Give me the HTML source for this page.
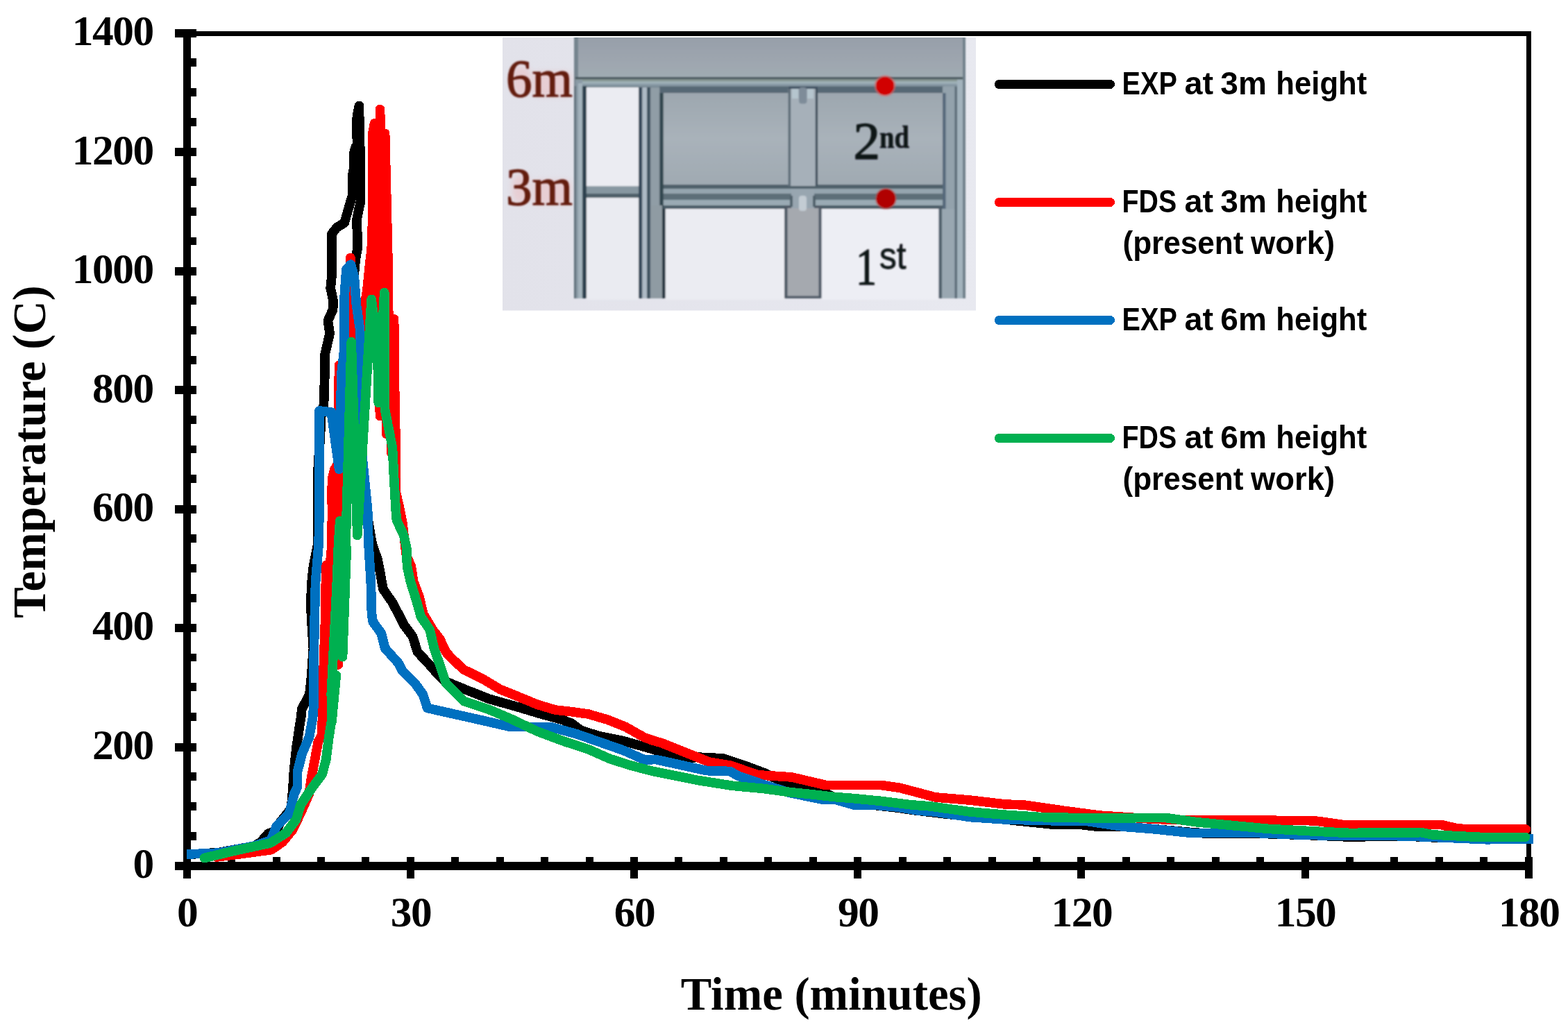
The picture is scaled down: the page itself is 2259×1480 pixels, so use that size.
<!DOCTYPE html>
<html lang="en"><head><meta charset="utf-8"><title>Temperature vs Time</title>
<style>html,body{margin:0;padding:0;background:#fff}svg{display:block}.tk{font-family:"Liberation Serif","DejaVu Serif",serif;font-weight:bold;font-size:61.4px;letter-spacing:-1.5px;fill:#000}.ti{font-family:"Liberation Serif","DejaVu Serif",serif;font-weight:bold;font-size:66.67px;fill:#000}.lg{font-family:"Liberation Sans","DejaVu Sans",sans-serif;font-weight:bold;font-size:46.2px;fill:#000}.cv{fill:none;stroke-width:13;stroke-linejoin:round;stroke-linecap:round}</style></head><body>
<svg width="2259" height="1480" viewBox="0 0 2259 1480">
<rect width="2259" height="1480" fill="#fff"/>
<defs>
<filter id="fb" x="-5%" y="-5%" width="110%" height="110%"><feGaussianBlur stdDeviation="1.05"/></filter>
<filter id="ft" x="-10%" y="-10%" width="120%" height="120%"><feGaussianBlur stdDeviation="1.0"/></filter>
<filter id="fg" x="-20%" y="-20%" width="140%" height="140%"><feGaussianBlur stdDeviation="4"/></filter>
<clipPath id="ic"><rect x="724" y="54" width="682" height="393.5"/></clipPath>
<linearGradient id="gw" x1="0" y1="0" x2="0" y2="1"><stop offset="0" stop-color="#959da8"/><stop offset="0.75" stop-color="#9fa7b0"/><stop offset="1" stop-color="#9facb2"/></linearGradient>
<linearGradient id="gp" x1="0" y1="0" x2="0" y2="1"><stop offset="0" stop-color="#9da7af"/><stop offset="0.5" stop-color="#a9b2ba"/><stop offset="1" stop-color="#a0aab2"/></linearGradient>
<linearGradient id="gbg" x1="0" y1="0" x2="1" y2="0"><stop offset="0" stop-color="#e2e2ea"/><stop offset="1" stop-color="#e8e9f0"/></linearGradient>
</defs>
<g id="inset" clip-path="url(#ic)">
<rect x="714" y="44" width="702" height="414" fill="url(#gbg)"/>
<g filter="url(#fb)">
<rect x="827" y="44" width="564" height="386" fill="#98a3ac"/>
<rect x="827" y="44" width="564" height="67" fill="url(#gw)"/>
<rect x="827" y="44" width="6" height="386" fill="#74848e"/>
<rect x="829" y="111" width="562" height="3.3" fill="#44545b"/>
<rect x="829" y="114.3" width="562" height="2.7" fill="#85948f"/>
<rect x="829" y="117" width="562" height="4.2" fill="#9cafb6"/>
<rect x="829" y="121.2" width="562" height="3.3" fill="#8496a2"/>
<rect x="845" y="124.5" width="546" height="2.5" fill="#6f808a"/>
<rect x="950" y="124.5" width="410" height="9.5" fill="#566874"/>
<rect x="955" y="134" width="180" height="132" fill="url(#gp)"/>
<rect x="1178" y="134" width="180" height="132" fill="url(#gp)"/>
<rect x="845" y="126" width="75" height="142.5" fill="#ebecf2"/>
<rect x="845" y="268.5" width="75" height="10.5" fill="#8797a1"/>
<rect x="845" y="279" width="75" height="6" fill="#4f606a"/>
<rect x="952" y="266" width="408" height="6" fill="#50616b"/>
<rect x="952" y="272" width="408" height="7" fill="#95a5af"/>
<rect x="952" y="279" width="408" height="9" fill="#5d6e78"/>
<rect x="952" y="288" width="408" height="8" fill="#9aaab4"/>
<rect x="955" y="296" width="405" height="5" fill="#4c5d67"/>
<rect x="845" y="285" width="75" height="147" fill="#eaebf1"/>
<rect x="958.5" y="301" width="171.5" height="131" fill="#ebecf2"/>
<rect x="1183.5" y="301" width="169.0" height="131" fill="#edeef4"/>
<rect x="829" y="115" width="10" height="315" fill="#8a9aa5"/>
<rect x="833" y="120" width="6" height="310" fill="#a3b2bc"/>
<rect x="839" y="124" width="6" height="306" fill="#2e4350"/>
<rect x="827" y="124" width="3" height="306" fill="#5f707a"/>
<rect x="920" y="126" width="5.4" height="304" fill="#34495a"/>
<rect x="925.4" y="126" width="6.6" height="304" fill="#adbac5"/>
<rect x="932" y="126" width="5.3" height="304" fill="#3f5260"/>
<rect x="937.3" y="126" width="13.0" height="304" fill="#909da6"/>
<rect x="950.3" y="134" width="5.4" height="167" fill="#33464f"/>
<rect x="937.3" y="296" width="16.7" height="134" fill="#8f9ba3"/>
<rect x="954" y="301" width="4.5" height="129" fill="#26363f"/>
<rect x="1135.7" y="124.5" width="42.4" height="143.5" fill="#a6b0b9"/>
<rect x="1135.7" y="124.5" width="42.4" height="3.5" fill="#3e5060"/>
<rect x="1135.7" y="128" width="3.4" height="140" fill="#5b6a76"/>
<rect x="1174.8" y="128" width="3.3" height="140" fill="#3e4e5a"/>
<rect x="1141" y="128" width="9" height="14" fill="#b5c5ce"/>
<rect x="1163" y="128" width="9" height="14" fill="#b5c5ce"/>
<rect x="1151" y="126" width="11.5" height="23.5" fill="#7e8c99" rx="4"/>
<rect x="1130" y="296" width="53.5" height="134" fill="#4f5a66"/>
<rect x="1134.5" y="300" width="45.0" height="126.5" fill="#a5a9af"/>
<rect x="1140" y="272" width="33" height="28" fill="#98a6b0"/>
<rect x="1151" y="282" width="11" height="22" fill="#c3ccd3" rx="4"/>
<rect x="1138" y="282" width="4" height="16" fill="#4f606a"/>
<rect x="1171" y="282" width="4" height="16" fill="#4f606a"/>
<rect x="1358" y="124.5" width="33" height="305.5" fill="#93a2ac"/>
<rect x="1358" y="134" width="4.5" height="167" fill="#55677a"/>
<rect x="1352.5" y="296" width="4.5" height="134" fill="#4f5f6c"/>
<rect x="1357" y="301" width="19" height="129" fill="#99a7b1"/>
<rect x="1375.5" y="124.5" width="3.5" height="305.5" fill="#5b6d78"/>
<rect x="1379" y="115" width="8" height="315" fill="#a3b3bd"/>
<rect x="1387" y="54" width="4" height="376" fill="#6f808a"/>
</g>
<g filter="url(#fb)">
<circle cx="1275" cy="123.7" r="15.5" fill="#e06060" opacity="0.55"/>
<circle cx="1275" cy="123.7" r="13" fill="#d10505"/>
<circle cx="1276.3" cy="286.2" r="15.5" fill="#c05050" opacity="0.55"/>
<circle cx="1276.3" cy="286.2" r="13.6" fill="#b00404"/>
</g>
<g filter="url(#fg)" fill="#f2a6a6" opacity="0.33">
<rect x="738" y="96" width="26" height="40" rx="10"/><rect x="768" y="104" width="54" height="34" rx="6"/>
<rect x="738" y="252" width="24" height="40" rx="10"/><rect x="768" y="260" width="54" height="34" rx="6"/>
</g>
<g filter="url(#ft)" font-family="'Liberation Serif','DejaVu Serif',serif" stroke-linejoin="round">
<text x="729" y="139.3" font-size="77" fill="#641b11" stroke="#641b11" stroke-width="1.3" textLength="96" lengthAdjust="spacingAndGlyphs">6m</text>
<text x="729" y="295.3" font-size="77" fill="#641b11" stroke="#641b11" stroke-width="1.3" textLength="96" lengthAdjust="spacingAndGlyphs">3m</text>
<text y="228.8" font-size="77" fill="#101418" stroke="#101418" stroke-width="1.4"><tspan x="1229.5">2</tspan><tspan x="1267" y="213" font-size="47" font-weight="bold" stroke-width="0.6" textLength="43" lengthAdjust="spacingAndGlyphs">nd</tspan></text>
<text y="409.7" font-size="77" fill="#101418" stroke="#101418" stroke-width="1.4"><tspan x="1233" textLength="30" lengthAdjust="spacingAndGlyphs">1</tspan><tspan x="1267" y="387.4" font-family="'Liberation Sans','DejaVu Sans',sans-serif" font-size="54" stroke-width="0.8" textLength="38.5" lengthAdjust="spacingAndGlyphs">st</tspan></text>
</g>
</g>
<g fill="#000" shape-rendering="crispEdges">
<rect x="264" y="45" width="1942" height="7"/>
<rect x="2199" y="45" width="7" height="1203"/>
<rect x="264" y="42" width="11" height="1224"/>
<rect x="252" y="1242" width="1956" height="12"/>
<rect x="252" y="1071" width="31" height="12"/>
<rect x="252" y="899" width="31" height="12"/>
<rect x="252" y="728" width="31" height="12"/>
<rect x="252" y="556" width="31" height="12"/>
<rect x="252" y="385" width="31" height="12"/>
<rect x="252" y="213" width="31" height="12"/>
<rect x="252" y="42" width="31" height="12"/>
<rect x="275" y="1199" width="8" height="12"/>
<rect x="275" y="1156" width="8" height="12"/>
<rect x="275" y="1113" width="8" height="12"/>
<rect x="275" y="1027" width="8" height="12"/>
<rect x="275" y="984" width="8" height="12"/>
<rect x="275" y="942" width="8" height="11"/>
<rect x="275" y="856" width="8" height="12"/>
<rect x="275" y="813" width="8" height="12"/>
<rect x="275" y="770" width="8" height="12"/>
<rect x="275" y="684" width="8" height="12"/>
<rect x="275" y="642" width="8" height="11"/>
<rect x="275" y="599" width="8" height="12"/>
<rect x="275" y="513" width="8" height="12"/>
<rect x="275" y="470" width="8" height="12"/>
<rect x="275" y="427" width="8" height="12"/>
<rect x="275" y="342" width="8" height="11"/>
<rect x="275" y="299" width="8" height="12"/>
<rect x="275" y="256" width="8" height="12"/>
<rect x="275" y="170" width="8" height="12"/>
<rect x="275" y="127" width="8" height="12"/>
<rect x="275" y="84" width="8" height="12"/>
<rect x="264" y="1235" width="11" height="31"/>
<rect x="586" y="1235" width="11" height="31"/>
<rect x="908" y="1235" width="11" height="31"/>
<rect x="1230" y="1235" width="11" height="31"/>
<rect x="1552" y="1235" width="11" height="31"/>
<rect x="1875" y="1235" width="11" height="31"/>
<rect x="2197" y="1235" width="11" height="31"/>
<rect x="328" y="1235" width="11" height="8"/>
<rect x="393" y="1235" width="11" height="8"/>
<rect x="457" y="1235" width="11" height="8"/>
<rect x="521" y="1235" width="11" height="8"/>
<rect x="650" y="1235" width="11" height="8"/>
<rect x="715" y="1235" width="11" height="8"/>
<rect x="779" y="1235" width="11" height="8"/>
<rect x="844" y="1235" width="11" height="8"/>
<rect x="972" y="1235" width="11" height="8"/>
<rect x="1037" y="1235" width="11" height="8"/>
<rect x="1101" y="1235" width="11" height="8"/>
<rect x="1166" y="1235" width="11" height="8"/>
<rect x="1295" y="1235" width="11" height="8"/>
<rect x="1359" y="1235" width="11" height="8"/>
<rect x="1424" y="1235" width="11" height="8"/>
<rect x="1488" y="1235" width="11" height="8"/>
<rect x="1617" y="1235" width="11" height="8"/>
<rect x="1681" y="1235" width="11" height="8"/>
<rect x="1746" y="1235" width="11" height="8"/>
<rect x="1810" y="1235" width="11" height="8"/>
<rect x="1939" y="1235" width="11" height="8"/>
<rect x="2003" y="1235" width="11" height="8"/>
<rect x="2068" y="1235" width="11" height="8"/>
<rect x="2132" y="1235" width="11" height="8"/>
</g>
<g class="tk" text-anchor="end">
<text x="220.6" y="1265.2">0</text>
<text x="220.6" y="1093.8">200</text>
<text x="220.6" y="922.3">400</text>
<text x="220.6" y="750.9">600</text>
<text x="220.6" y="579.5">800</text>
<text x="220.6" y="408.1">1000</text>
<text x="220.6" y="236.6">1200</text>
<text x="220.6" y="65.2">1400</text>
</g>
<g class="tk" text-anchor="middle">
<text x="269.7" y="1334.5">0</text>
<text x="591.9" y="1334.5">30</text>
<text x="914.0" y="1334.5">60</text>
<text x="1236.2" y="1334.5">90</text>
<text x="1558.4" y="1334.5">120</text>
<text x="1880.5" y="1334.5">150</text>
<text x="2202.7" y="1334.5">180</text>
</g>
<text class="ti" x="1197.8" y="1454.8" text-anchor="middle">Time (minutes)</text>
<text class="ti" transform="translate(65,651) rotate(-90)" text-anchor="middle">Temperature (C)</text>
<g class="cv" shape-rendering="crispEdges" style="stroke-width:13.7">
<polyline id="c-black" stroke="#000000" points="275.0,1231.1 314.9,1228.6 366.0,1219.2 375.6,1213.7 386.4,1201.2 392.5,1199.0 399.0,1196.5 404.0,1184.5 419.5,1165.0 422.0,1135.4 423.5,1111.1 426.8,1078.6 431.6,1046.2 434.2,1030.0 434.5,1022.4 445.9,1000.8 448.6,975.1 451.4,934.6 449.3,900.8 447.6,870.5 449.2,838.1 451.4,816.5 455.7,794.9 457.8,784.0 457.8,740.0 458.4,668.6 461.1,634.0 462.7,600.5 466.5,583.0 467.9,538.1 468.3,510.0 475.1,480.8 472.4,462.4 479.5,446.2 480.3,435.0 476.2,415.1 477.8,398.9 477.8,337.3 485.4,327.6 496.2,321.1 502.7,298.4 507.6,282.0 507.6,253.0 509.7,243.0 509.7,221.0 512.4,212.0 514.6,208.0 514.6,199.0 513.5,196.0 513.5,178.0 514.6,167.0 517.3,152.5 518.4,200.0 519.5,245.0 519.5,290.0 514.1,315.7 514.1,324.3 515.1,342.7 515.1,357.8 512.5,371.9 510.8,388.1 510.3,398.9 511.0,430.0 516.0,473.0 518.0,538.0 520.0,600.0 522.0,661.0 525.0,700.0 529.7,746.2 536.2,784.0 543.8,805.7 548.1,827.3 551.9,848.9 565.4,868.4 576.8,890.0 582.0,900.5 594.6,917.4 601.4,939.4 615.7,954.6 627.6,968.1 641.1,981.6 669.8,993.4 703.6,1006.9 745.8,1018.8 779.6,1028.9 810.0,1037.3 823.5,1042.4 837.0,1052.5 864.0,1061.0 897.8,1067.7 940.0,1079.6 950.4,1082.8 984.2,1092.9 1007.8,1091.2 1041.6,1092.9 1072.0,1103.0 1100.0,1113.4 1112.2,1119.5 1126.6,1125.4 1193.0,1144.5 1200.9,1148.4 1261.5,1160.6 1291.2,1163.8 1317.8,1167.7 1340.0,1170.3 1364.4,1173.2 1380.0,1174.6 1448.9,1181.0 1521.5,1188.6 1558.7,1188.6 1580.6,1191.2 1617.8,1191.2 1660.0,1194.5 1716.0,1199.6 1741.3,1201.3 1800.4,1200.8 1884.9,1203.5 1952.4,1206.4 1986.2,1204.7 2020.0,1204.7 2073.2,1207.2 2115.4,1208.0 2198.2,1208.9"/>
<polyline id="c-red" stroke="#ff0000" points="312.0,1235.0 340.0,1231.5 391.1,1224.6 407.3,1213.2 421.9,1195.4 434.9,1167.8 445.4,1143.5 448.6,1120.8 453.5,1094.9 458.4,1068.9 463.2,1060.8 464.6,1035.0 465.4,988.0 467.2,934.0 468.9,885.0 469.4,838.1 470.3,814.3 471.6,915.0 476.2,805.7 477.8,789.5 478.6,735.0 477.8,709.7 479.1,688.1 481.6,677.3 487.0,668.0 487.8,580.0 488.6,526.2 487.3,958.0 504.9,371.4 507.0,460.0 514.0,720.0 528.6,520.0 527.0,430.0 528.6,420.5 530.8,398.9 533.0,377.3 535.1,361.1 536.2,334.1 537.3,280.0 537.3,190.0 539.5,178.0 540.5,430.0 547.6,599.5 547.5,157.6 556.8,625.4 554.6,192.2 555.7,240.0 556.8,285.0 558.9,375.0 559.5,440.0 563.8,652.4 567.6,459.7 568.6,560.0 569.7,620.0 569.7,706.5 576.2,735.0 579.5,751.6 582.2,773.2 585.4,800.3 592.4,816.5 595.7,838.1 603.9,860.0 610.0,885.0 623.0,907.0 633.8,921.0 642.3,939.5 650.0,948.0 668.1,965.0 695.1,978.2 720.4,993.4 745.8,1003.6 774.5,1015.4 799.8,1023.0 821.8,1025.5 847.1,1028.9 875.8,1037.3 901.2,1047.5 928.2,1062.7 940.0,1066.9 953.8,1070.9 987.6,1084.4 1021.3,1098.0 1051.7,1103.0 1092.3,1116.8 1140.4,1119.9 1190.3,1131.6 1270.0,1131.6 1296.5,1135.4 1347.6,1148.9 1398.2,1153.2 1448.9,1159.1 1474.2,1159.9 1533.3,1168.4 1584.0,1175.1 1660.0,1180.2 1707.6,1181.9 1766.7,1181.9 1893.3,1182.7 1935.6,1188.6 2020.0,1188.6 2076.6,1188.6 2098.6,1193.7 2115.4,1195.0 2198.2,1195.0"/>
<polyline id="c-blue" stroke="#0070c0" stroke-linecap="butt" style="stroke-linecap:butt" points="269.1,1231.1 314.9,1229.1 366.8,1218.9 390.0,1211.0 398.5,1190.5 416.5,1172.7 424.0,1143.5 428.6,1133.8 428.4,1112.7 434.9,1086.8 445.4,1062.4 450.5,1035.0 451.7,1020.5 451.9,988.0 452.4,934.0 453.5,880.0 454.6,838.1 457.3,805.7 459.2,784.0 460.0,730.0 460.2,650.0 460.0,591.9 477.3,594.0 488.6,676.2 490.8,590.0 491.9,538.0 495.7,505.7 495.7,435.0 498.9,388.1 505.4,381.1 510.3,398.9 513.5,440.0 518.4,473.2 519.5,516.5 521.1,590.0 522.2,661.0 524.9,688.0 529.6,735.0 531.0,784.0 534.3,838.1 535.5,885.0 537.3,896.2 549.2,912.4 554.6,934.0 574.0,955.7 579.5,966.5 598.8,986.0 609.0,1000.2 615.7,1020.4 661.3,1030.6 695.1,1038.2 735.6,1047.5 793.1,1047.5 830.2,1057.6 864.0,1069.4 897.8,1081.2 928.2,1094.8 945.3,1094.6 1018.0,1110.6 1051.7,1111.5 1063.6,1118.2 1100.0,1130.6 1138.2,1142.6 1185.0,1152.1 1203.1,1152.1 1230.7,1160.1 1259.4,1160.1 1291.2,1162.8 1323.1,1168.1 1347.6,1170.0 1398.2,1177.6 1448.9,1181.0 1516.4,1182.7 1567.1,1183.6 1617.8,1191.2 1660.0,1194.5 1716.0,1200.4 1741.3,1200.4 1808.9,1200.4 1884.9,1203.5 1944.0,1204.2 2020.0,1204.7 2064.8,1206.4 2140.8,1209.7 2209.2,1209.2"/>
<polyline id="c-green" stroke="#00b050" points="294.3,1236.5 340.8,1225.4 389.5,1214.9 412.2,1200.3 426.8,1180.8 433.2,1159.7 449.5,1135.4 464.1,1115.9 469.7,1094.9 473.8,1062.4 478.2,1035.0 484.3,973.0 478.0,1040.0 477.3,998.9 478.4,977.3 479.5,955.7 481.1,923.2 483.2,885.0 485.4,838.1 487.6,784.0 489.7,750.5 499.3,790.0 493.5,946.8 506.2,492.7 514.8,771.5 535.1,431.4 540.3,470.0 543.9,506.0 545.2,580.3 553.7,421.6 554.6,590.0 558.9,612.4 565.4,644.9 567.6,688.1 570.2,735.0 571.4,749.5 581.6,771.1 585.9,790.5 586.5,816.5 591.4,838.1 599.7,865.0 606.4,888.7 619.1,907.3 625.9,936.0 636.0,964.7 642.8,985.0 668.1,1010.3 703.6,1022.1 737.3,1036.5 774.5,1054.2 813.3,1068.6 847.1,1079.6 877.5,1093.1 906.2,1102.4 940.0,1111.3 962.2,1115.7 1004.4,1124.3 1055.1,1132.3 1100.0,1136.5 1137.2,1141.5 1169.0,1144.7 1200.9,1148.4 1227.5,1150.4 1270.0,1154.5 1312.5,1159.8 1340.0,1161.9 1398.2,1170.0 1448.9,1174.3 1499.6,1177.6 1567.1,1178.9 1617.8,1178.7 1660.0,1178.6 1680.5,1178.6 1724.4,1184.8 1775.1,1189.5 1825.8,1194.3 1893.3,1198.0 1944.0,1200.4 2020.0,1200.1 2047.9,1199.6 2064.8,1203.0 2132.3,1206.4 2197.4,1206.4"/>
</g>
<g class="cv" shape-rendering="crispEdges">
<line x1="1439.5" y1="121.5" x2="1599.5" y2="121.5" stroke="#000000"/>
<line x1="1439.5" y1="291.5" x2="1599.5" y2="291.5" stroke="#ff0000"/>
<line x1="1439.5" y1="461.5" x2="1599.5" y2="461.5" stroke="#0070c0"/>
<line x1="1439.5" y1="631.5" x2="1599.5" y2="631.5" stroke="#00b050"/>
</g>
<g class="lg">
<text y="135.7" xml:space="default"><tspan x="1616.6" textLength="78.5" lengthAdjust="spacingAndGlyphs">EXP</tspan> <tspan x="1706.5" textLength="41.5" lengthAdjust="spacingAndGlyphs">at</tspan> <tspan x="1758.3" textLength="66.5" lengthAdjust="spacingAndGlyphs">3m</tspan> <tspan x="1838.3" textLength="131" lengthAdjust="spacingAndGlyphs">height</tspan></text>
<text y="306" xml:space="default"><tspan x="1616.6" textLength="78.5" lengthAdjust="spacingAndGlyphs">FDS</tspan> <tspan x="1706.5" textLength="41.5" lengthAdjust="spacingAndGlyphs">at</tspan> <tspan x="1758.3" textLength="66.5" lengthAdjust="spacingAndGlyphs">3m</tspan> <tspan x="1838.3" textLength="131" lengthAdjust="spacingAndGlyphs">height</tspan></text>
<text y="366.3" xml:space="default"><tspan x="1617.5" textLength="174" lengthAdjust="spacingAndGlyphs">(present</tspan> <tspan x="1802" textLength="121" lengthAdjust="spacingAndGlyphs">work)</tspan></text>
<text y="476.3" xml:space="default"><tspan x="1616.6" textLength="78.5" lengthAdjust="spacingAndGlyphs">EXP</tspan> <tspan x="1706.5" textLength="41.5" lengthAdjust="spacingAndGlyphs">at</tspan> <tspan x="1758.3" textLength="66.5" lengthAdjust="spacingAndGlyphs">6m</tspan> <tspan x="1838.3" textLength="131" lengthAdjust="spacingAndGlyphs">height</tspan></text>
<text y="645.7" xml:space="default"><tspan x="1616.6" textLength="78.5" lengthAdjust="spacingAndGlyphs">FDS</tspan> <tspan x="1706.5" textLength="41.5" lengthAdjust="spacingAndGlyphs">at</tspan> <tspan x="1758.3" textLength="66.5" lengthAdjust="spacingAndGlyphs">6m</tspan> <tspan x="1838.3" textLength="131" lengthAdjust="spacingAndGlyphs">height</tspan></text>
<text y="706.3" xml:space="default"><tspan x="1617.5" textLength="174" lengthAdjust="spacingAndGlyphs">(present</tspan> <tspan x="1802" textLength="121" lengthAdjust="spacingAndGlyphs">work)</tspan></text>
</g>
</svg></body></html>
